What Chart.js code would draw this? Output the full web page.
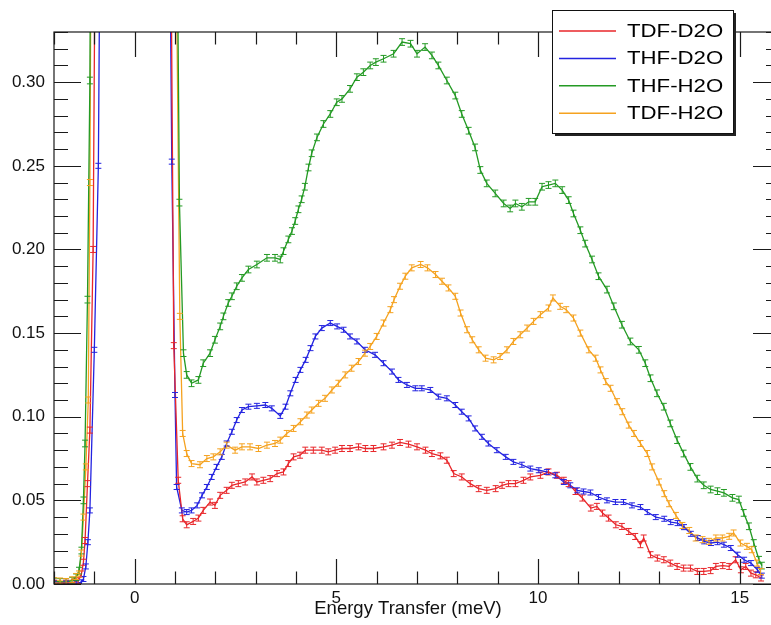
<!DOCTYPE html>
<html>
<head>
<meta charset="utf-8">
<script src="https://cdn.jsdelivr.net/npm/chart.js@4/dist/chart.umd.min.js"></script>
<style>
html,body{margin:0;padding:0;background:#fff;overflow:hidden;}
#wrap{position:relative;width:790px;height:625px;}
</style>
</head>
<body>
<div id="wrap"><canvas id="c"></canvas></div>
<script>
// ---------- data ----------
const seriesNames = ['TDF-D2O', 'THF-D2O', 'THF-H2O', 'TDF-H2O'];
const xAxisTitle = 'Energy Transfer (meV)';

// TDF-D2O (red)
const tdfD2O_E = [-2.0,-1.7,-1.5,-1.4,-1.32,-1.27,-1.23,-1.17,-1.11,-1.03,-0.95,0,0.88,0.97,1.08,1.19,1.29,1.45,1.58,1.70,1.87,1.99,2.12,2.28,2.41,2.57,2.74,2.91,3.03,3.19,3.36,3.53,3.69,3.81,3.94,4.10,4.23,4.43,4.64,4.80,4.97,5.14,5.34,5.55,5.72,5.92,6.17,6.38,6.58,6.79,7.00,7.21,7.37,7.58,7.74,7.91,8.11,8.32,8.53,8.73,8.95,9.11,9.27,9.44,9.64,9.81,10.06,10.26,10.47,10.64,10.76,10.93,11.10,11.31,11.46,11.60,11.75,11.93,12.08,12.25,12.41,12.54,12.62,12.79,12.96,13.12,13.28,13.45,13.61,13.78,13.95,14.11,14.28,14.41,14.58,14.74,14.90,15.03,15.15,15.28,15.40,15.53];
const tdfD2O_I = [0.0005,0.0005,0.001,0.002,0.006,0.013,0.026,0.06,0.092,0.2,0.5,4,0.45,0.1425,0.062,0.039,0.0354,0.0374,0.0394,0.044,0.049,0.047,0.053,0.056,0.059,0.060,0.061,0.064,0.061,0.062,0.063,0.066,0.067,0.072,0.076,0.077,0.080,0.080,0.080,0.079,0.080,0.081,0.081,0.082,0.081,0.081,0.082,0.083,0.0846,0.0836,0.082,0.080,0.078,0.0766,0.074,0.066,0.064,0.060,0.057,0.056,0.057,0.059,0.060,0.060,0.062,0.064,0.065,0.067,0.065,0.062,0.060,0.0553,0.0514,0.0454,0.0464,0.0424,0.0394,0.0354,0.0344,0.0314,0.0284,0.0235,0.0275,0.0175,0.0155,0.0145,0.0125,0.0105,0.0095,0.0095,0.0075,0.0075,0.008,0.0105,0.011,0.0105,0.0145,0.0085,0.0105,0.0065,0.0055,0.0036];

// THF-D2O (blue)
const thfD2O_E = [-2.0,-1.7,-1.45,-1.32,-1.27,-1.21,-1.16,-1.11,-1.0,-0.90,-0.8,0,0.85,0.92,1.00,1.04,1.17,1.29,1.41,1.55,1.67,1.79,1.91,2.03,2.16,2.28,2.41,2.53,2.66,2.82,3.03,3.24,3.40,3.61,3.74,3.86,3.99,4.11,4.24,4.36,4.48,4.64,4.85,5.02,5.18,5.34,5.51,5.71,5.96,6.17,6.38,6.54,6.75,6.96,7.12,7.33,7.53,7.74,7.95,8.11,8.28,8.44,8.61,8.77,8.98,9.20,9.39,9.60,9.81,10.02,10.22,10.43,10.64,10.80,10.97,11.13,11.30,11.50,11.71,11.92,12.12,12.33,12.54,12.71,12.92,13.13,13.29,13.46,13.62,13.79,13.96,14.12,14.29,14.45,14.61,14.78,14.95,15.11,15.28,15.44,15.55];
const thfD2O_I = [0.0003,0.0003,0.0005,0.001,0.003,0.0105,0.025,0.044,0.14,0.25,0.6,4,0.45,0.2525,0.113,0.058,0.044,0.043,0.044,0.047,0.053,0.058,0.064,0.070,0.076,0.084,0.091,0.098,0.104,0.106,0.1065,0.107,0.105,0.1005,0.106,0.114,0.122,0.128,0.134,0.141,0.148,0.153,0.156,0.154,0.152,0.148,0.145,0.140,0.137,0.132,0.127,0.122,0.119,0.117,0.117,0.116,0.112,0.111,0.107,0.103,0.099,0.093,0.088,0.084,0.080,0.076,0.073,0.0713,0.069,0.068,0.067,0.065,0.061,0.059,0.056,0.0553,0.0547,0.052,0.050,0.049,0.049,0.047,0.046,0.043,0.040,0.039,0.037,0.0364,0.034,0.030,0.0275,0.0255,0.0245,0.025,0.0235,0.0215,0.0175,0.0145,0.0125,0.0085,0.005];

// THF-H2O (green)
const thfH2O_E = [-2.0,-1.85,-1.7,-1.55,-1.45,-1.38,-1.32,-1.27,-1.23,-1.17,-1.11,-1.0,0,1.0,1.11,1.21,1.29,1.41,1.58,1.70,1.87,1.99,2.12,2.20,2.32,2.41,2.53,2.66,2.82,3.03,3.28,3.48,3.61,3.69,3.81,3.90,3.98,4.06,4.14,4.22,4.31,4.39,4.52,4.68,4.85,5.01,5.14,5.34,5.51,5.67,5.84,5.98,6.17,6.42,6.63,6.84,7.00,7.20,7.37,7.53,7.74,7.95,8.11,8.28,8.44,8.57,8.73,8.94,9.15,9.31,9.44,9.60,9.77,9.93,10.10,10.26,10.43,10.60,10.76,10.88,11.05,11.17,11.34,11.50,11.71,11.88,12.08,12.29,12.50,12.66,12.79,12.95,13.12,13.28,13.45,13.61,13.78,13.95,14.11,14.28,14.45,14.61,14.82,14.98,15.10,15.23,15.35,15.48,15.55];
const thfH2O_I = [0.0015,0.0012,0.0012,0.002,0.004,0.008,0.02,0.05,0.084,0.17,0.301,0.9,4,0.55,0.228,0.138,0.125,0.120,0.122,0.132,0.138,0.146,0.154,0.160,0.168,0.172,0.178,0.183,0.188,0.191,0.195,0.195,0.194,0.199,0.206,0.211,0.217,0.224,0.230,0.2375,0.249,0.2575,0.267,0.275,0.281,0.288,0.290,0.296,0.303,0.306,0.310,0.312,0.314,0.317,0.324,0.323,0.317,0.321,0.316,0.310,0.301,0.292,0.281,0.271,0.261,0.2475,0.2395,0.2335,0.2275,0.2245,0.2275,0.2255,0.2285,0.2285,0.2375,0.2385,0.2395,0.2355,0.2295,0.2215,0.2115,0.2035,0.194,0.184,0.176,0.166,0.155,0.145,0.140,0.132,0.123,0.114,0.106,0.096,0.086,0.078,0.070,0.063,0.059,0.0565,0.0555,0.0545,0.0515,0.0505,0.0425,0.0345,0.0245,0.0145,0.011];

// TDF-H2O (orange)
const tdfH2O_E = [-2.0,-1.85,-1.7,-1.55,-1.45,-1.38,-1.32,-1.27,-1.21,-1.15,-1.11,-1.0,0,0.98,1.12,1.19,1.29,1.41,1.62,1.79,1.95,2.12,2.28,2.49,2.66,2.86,3.07,3.28,3.48,3.61,3.77,3.94,4.11,4.27,4.39,4.56,4.72,4.89,5.05,5.22,5.38,5.55,5.71,5.84,6.00,6.17,6.34,6.43,6.58,6.71,6.87,7.09,7.26,7.46,7.62,7.78,7.95,8.08,8.24,8.37,8.53,8.70,8.90,9.06,9.23,9.39,9.56,9.73,9.89,10.06,10.26,10.37,10.55,10.70,10.88,11.05,11.26,11.43,11.55,11.68,11.80,11.96,12.09,12.25,12.38,12.54,12.71,12.83,13.00,13.13,13.25,13.42,13.58,13.75,13.91,14.08,14.24,14.41,14.57,14.74,14.85,15.02,15.18,15.30,15.43,15.52];
const tdfH2O_I = [0.002,0.0018,0.0015,0.0025,0.0045,0.006,0.0185,0.04,0.070,0.11,0.24,0.8,4,0.5,0.160,0.090,0.078,0.072,0.0713,0.075,0.076,0.079,0.083,0.080,0.082,0.082,0.081,0.083,0.084,0.086,0.090,0.093,0.097,0.101,0.104,0.108,0.111,0.116,0.120,0.125,0.129,0.133,0.138,0.142,0.148,0.156,0.164,0.170,0.178,0.184,0.189,0.191,0.189,0.185,0.181,0.177,0.172,0.162,0.152,0.146,0.140,0.135,0.134,0.136,0.140,0.145,0.149,0.153,0.157,0.161,0.165,0.171,0.166,0.164,0.159,0.150,0.140,0.135,0.128,0.121,0.117,0.109,0.103,0.095,0.090,0.084,0.078,0.070,0.061,0.054,0.048,0.041,0.035,0.032,0.0275,0.0265,0.0255,0.0275,0.0275,0.0285,0.0305,0.0245,0.0225,0.0205,0.0125,0.0075];

// error-bar half heights (intensity units)
const seriesErrors = [0.0018, 0.0015, 0.002, 0.0018];
const seriesColors = ['#e8262a', '#2323e0', '#249a24', '#f5a21f'];

const xTickValues = [0, 5, 10, 15];
const yTickValues = [0, 0.05, 0.10, 0.15, 0.20, 0.25, 0.30];

// ---------- chart ----------
const FONT = "'Liberation Sans', Arial, Helvetica, sans-serif";
function pts(E, I) { return E.map((e, i) => ({ x: e, y: I[i] })); }
const seriesE = [tdfD2O_E, thfD2O_E, thfH2O_E, tdfH2O_E];
const seriesI = [tdfD2O_I, thfD2O_I, thfH2O_I, tdfH2O_I];

const datasets = seriesNames.map((name, k) => ({
  label: name,
  data: pts(seriesE[k], seriesI[k]),
  borderColor: seriesColors[k],
  backgroundColor: seriesColors[k],
  borderWidth: 1.3,
  pointRadius: 0,
  tension: 0,
  fill: false,
  errorHalf: seriesErrors[k]
}));

const framePlugin = {
  id: 'frame',
  afterDatasetsDraw(chart) {
    const { ctx, chartArea: a, scales } = chart;
    const xs = scales.x, ys = scales.y;
    // error bars
    ctx.save();
    ctx.beginPath();
    ctx.rect(a.left, a.top, a.right - a.left, a.bottom - a.top);
    ctx.clip();
    chart.data.datasets.forEach(ds => {
      ctx.strokeStyle = ds.borderColor;
      ctx.lineWidth = 1;
      ctx.beginPath();
      ds.data.forEach(p => {
        const px = xs.getPixelForValue(p.x);
        const y1 = ys.getPixelForValue(p.y + ds.errorHalf);
        const y2 = ys.getPixelForValue(p.y - ds.errorHalf);
        ctx.moveTo(px, y1); ctx.lineTo(px, y2);
        ctx.moveTo(px - 3, y1); ctx.lineTo(px + 3, y1);
        ctx.moveTo(px - 3, y2); ctx.lineTo(px + 3, y2);
      });
      ctx.stroke();
    });
    ctx.restore();
    // frame and inward ticks
    ctx.save();
    ctx.strokeStyle = '#1a1a1a';
    ctx.lineWidth = 1.2;
    ctx.strokeRect(a.left, a.top, a.right - a.left, a.bottom - a.top);
    ctx.beginPath();
    for (let e = Math.ceil(xs.min); e <= xs.max; e++) {
      const px = Math.round(xs.getPixelForValue(e)) + 0.5;
      const len = (e % 5 === 0) ? 25 : 12.5;
      ctx.moveTo(px, a.bottom); ctx.lineTo(px, a.bottom - len);
      ctx.moveTo(px, a.top); ctx.lineTo(px, a.top + len);
    }
    for (let k = 0; k <= 33; k++) {
      const py = Math.round(ys.getPixelForValue(k / 100)) + 0.5;
      const len = (k % 5 === 0) ? 27 : 14;
      ctx.moveTo(a.left, py); ctx.lineTo(a.left + len, py);
      ctx.moveTo(a.right, py); ctx.lineTo(a.right - len, py);
    }
    ctx.stroke();
    ctx.restore();
  },
  afterDraw(chart) {
    const ctx = chart.ctx;
    // x-axis title (centred as in the reference)
    ctx.save();
    ctx.fillStyle = '#111';
    ctx.font = '18.5px ' + FONT;
    ctx.textAlign = 'center';
    ctx.textBaseline = 'middle';
    ctx.fillText(xAxisTitle, 408, 609);
    ctx.restore();
    // legend box
    const bx = 552, by = 10, bw = 181, bh = 123;
    ctx.save();
    ctx.fillStyle = '#222';
    ctx.fillRect(bx + 3, by + 3, bw, bh);
    ctx.fillStyle = '#fff';
    ctx.fillRect(bx, by, bw, bh);
    ctx.strokeStyle = '#111';
    ctx.lineWidth = 1;
    ctx.strokeRect(bx + 0.5, by + 0.5, bw, bh);
    chart.data.datasets.forEach((ds, i) => {
      const cy = 31 + i * 27.4;
      ctx.strokeStyle = ds.borderColor;
      ctx.lineWidth = 1.5;
      ctx.beginPath();
      ctx.moveTo(559, cy); ctx.lineTo(616, cy);
      ctx.stroke();
      ctx.save();
      ctx.translate(627, cy);
      ctx.scale(1.2, 1);
      ctx.fillStyle = '#000';
      ctx.font = '18.5px ' + FONT;
      ctx.textBaseline = 'middle';
      ctx.fillText(ds.label, 0, 1);
      ctx.restore();
    });
    ctx.restore();
  }
};

new Chart(document.getElementById('c'), {
  type: 'line',
  data: { datasets },
  options: {
    responsive: true,
    maintainAspectRatio: false,
    animation: false,
    layout: { padding: { left: 0, right: 10, top: 32, bottom: 0 } },
    plugins: { legend: { display: false }, tooltip: { enabled: false } },
    scales: {
      x: {
        type: 'linear',
        min: -2, max: 16,
        grid: { display: false, drawTicks: false },
        border: { display: false },
        afterBuildTicks: s => { s.ticks = xTickValues.map(v => ({ value: v })); },
        afterFit: s => { s.height = 41; },
        ticks: { color: '#111', font: { family: FONT, size: 17 }, padding: 4, maxRotation: 0, callback: v => String(v) },
        title: { display: false }
      },
      y: {
        type: 'linear',
        min: 0, max: 0.33,
        grid: { display: false, drawTicks: false },
        border: { display: false },
        afterBuildTicks: s => { s.ticks = yTickValues.map(v => ({ value: v })); },
        afterFit: s => { s.width = 54; },
        ticks: { color: '#111', font: { family: FONT, size: 17 }, padding: 9, callback: v => Number(v).toFixed(2) }
      }
    }
  },
  plugins: [framePlugin]
});
</script>
</body>
</html>
